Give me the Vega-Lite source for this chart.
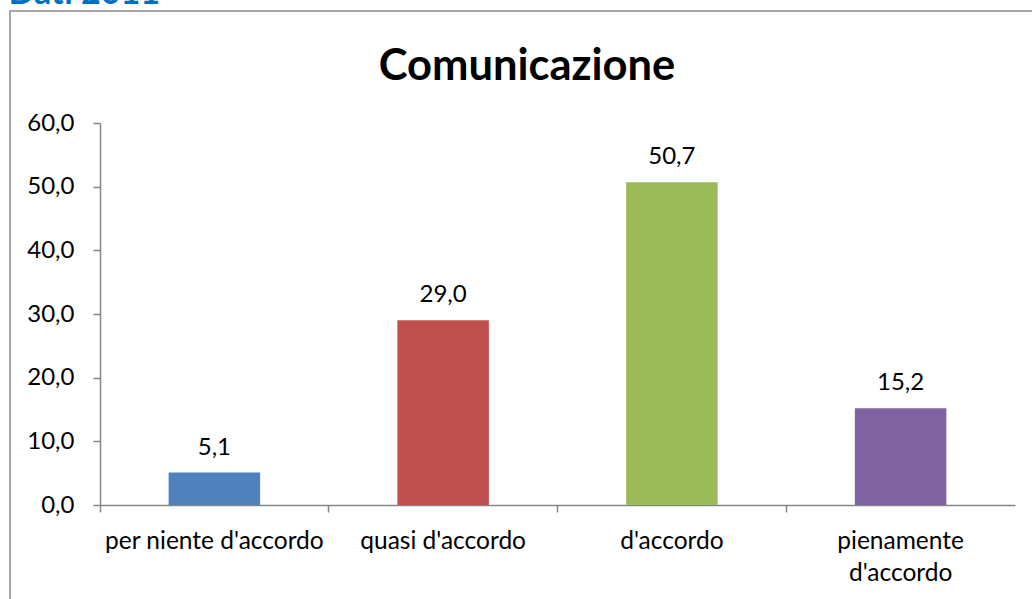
{
  "$schema": "https://vega.github.io/schema/vega-lite/v6.json",
  "autosize": {"type": "none"},
  "padding": {"left": 10, "top": 11, "right": 0, "bottom": 0},
  "width": 1034,
  "height": 600,
  "background": "white",
  "view": {"stroke": "#8a8a8a", "strokeWidth": 1.5, "fill": "white"},
  "config": {
    "locale": {"number": {"decimal": ",", "thousands": ".", "grouping": [3], "currency": ["€", ""]}},
    "font": "Lato"
  },
  "title": {
    "text": "Comunicazione",
    "anchor": "middle",
    "frame": "group",
    "orient": "top",
    "fontSize": 43.5,
    "fontWeight": "bold",
    "color": "#000000",
    "font": "Lato",
    "baseline": "middle",
    "offset": -51,
    "dy": 83
  },
  "data": {
    "values": [
      {"categoria": "per niente d'accordo", "valore": 5.1},
      {"categoria": "quasi d'accordo", "valore": 29.0},
      {"categoria": "d'accordo", "valore": 50.7},
      {"categoria": "pienamente d'accordo", "valore": 15.2}
    ]
  },
  "encoding": {
    "x": {
      "field": "categoria",
      "type": "nominal",
      "sort": null,
      "scale": {"range": [90, 1005], "paddingInner": 0, "paddingOuter": 0},
      "axis": {
        "title": null,
        "orient": "bottom",
        "offset": -106,
        "domainColor": "#868686",
        "domainWidth": 1.5,
        "tickColor": "#868686",
        "tickWidth": 1.5,
        "tickSize": 7,
        "bandPosition": 0,
        "labelAngle": 0,
        "labelFont": "Lato",
        "labelFontSize": 24.5,
        "labelColor": "#000000",
        "labelPadding": 17,
        "labelLineHeight": 32,
        "labelBaseline": "top",
        "labelExpr": "datum.value == 'pienamente d\\'accordo' ? ['pienamente', 'd\\'accordo'] : datum.value",
        "labelLimit": 300
      }
    },
    "y": {
      "field": "valore",
      "type": "quantitative",
      "scale": {"domain": [0, 60], "range": [494, 112], "nice": false},
      "axis": {
        "title": "Dati 2011",
        "titleFont": "Lato",
        "titleAngle": 0,
        "titleAlign": "left",
        "titleBaseline": "alphabetic",
        "titleX": -92,
        "titleY": -8,
        "titleColor": "#0070C0",
        "titleFontSize": 34,
        "titleFontWeight": "bold",
        "orient": "left",
        "offset": -90,
        "values": [0, 10, 20, 30, 40, 50, 60],
        "format": ".1f",
        "grid": false,
        "domainColor": "#868686",
        "domainWidth": 1.5,
        "tickColor": "#868686",
        "tickWidth": 1.5,
        "tickSize": 7,
        "labelFont": "Lato",
        "labelFontSize": 24,
        "labelColor": "#000000",
        "labelPadding": 19
      }
    }
  },
  "layer": [
    {
      "mark": {"type": "bar", "width": {"band": 0.4}},
      "encoding": {
        "color": {
          "field": "categoria",
          "type": "nominal",
          "sort": null,
          "scale": {"range": ["#4F81BD", "#C0504D", "#9BBB59", "#8064A2"]},
          "legend": null
        }
      }
    },
    {
      "mark": {"type": "text", "font": "Lato", "fontSize": 24, "baseline": "alphabetic", "dy": -18, "color": "#000000"},
      "encoding": {
        "text": {"field": "valore", "type": "quantitative", "format": ".1f"}
      }
    }
  ]
}
